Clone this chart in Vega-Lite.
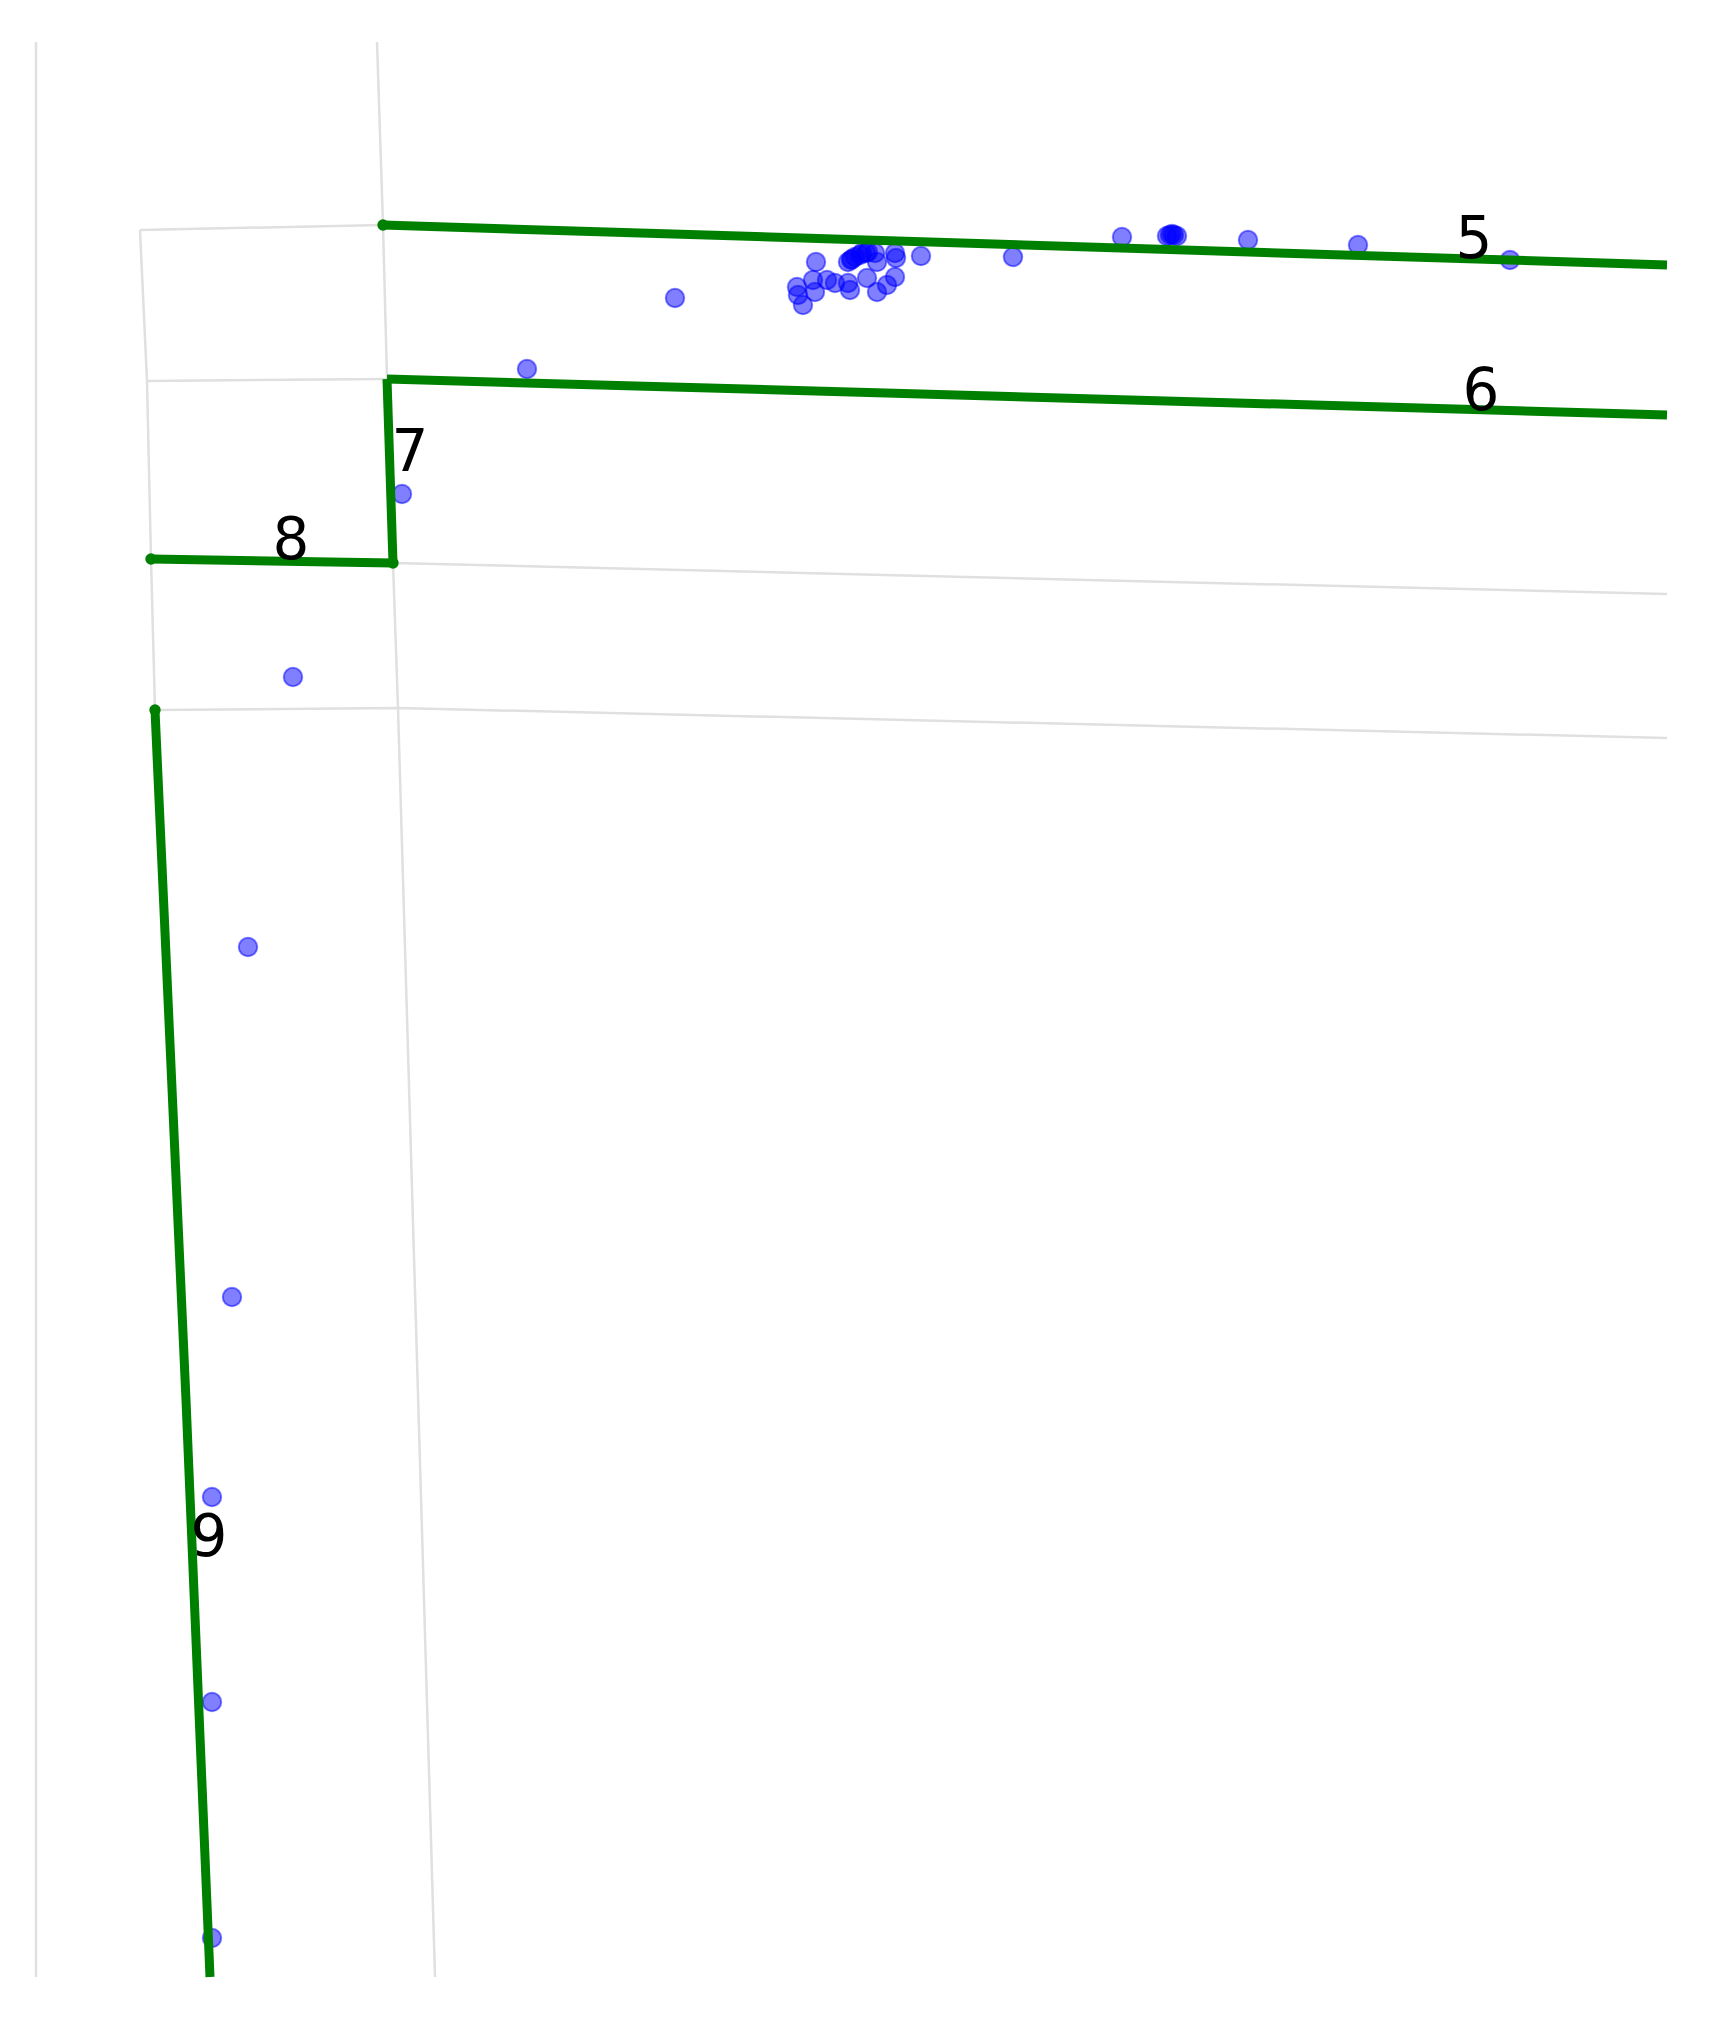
{
  "$schema": "https://vega.github.io/schema/vega-lite/v6.json",
  "width": 1709,
  "height": 2019,
  "autosize": {"type": "fit", "contains": "padding"},
  "padding": 0,
  "background": "white",
  "config": {"view": {"stroke": null}},
  "datasets": {
    "grid": [
      {"id": "L0", "seq": 0, "x": 36, "y": 42},
      {"id": "L0", "seq": 1, "x": 36, "y": 1977},
      {"id": "A", "seq": 0, "x": 377, "y": 42},
      {"id": "A", "seq": 1, "x": 383, "y": 225},
      {"id": "A", "seq": 2, "x": 387, "y": 379},
      {"id": "A", "seq": 3, "x": 393, "y": 563},
      {"id": "A", "seq": 4, "x": 398, "y": 708},
      {"id": "A", "seq": 5, "x": 435, "y": 1977},
      {"id": "T1", "seq": 0, "x": 140, "y": 230},
      {"id": "T1", "seq": 1, "x": 383, "y": 225},
      {"id": "B", "seq": 0, "x": 140, "y": 230},
      {"id": "B", "seq": 1, "x": 147, "y": 381},
      {"id": "B", "seq": 2, "x": 151, "y": 559},
      {"id": "B", "seq": 3, "x": 155, "y": 710},
      {"id": "H2", "seq": 0, "x": 147, "y": 381},
      {"id": "H2", "seq": 1, "x": 387, "y": 379},
      {"id": "H3", "seq": 0, "x": 393, "y": 563},
      {"id": "H3", "seq": 1, "x": 1667, "y": 594},
      {"id": "H4", "seq": 0, "x": 155, "y": 710},
      {"id": "H4", "seq": 1, "x": 398, "y": 708},
      {"id": "H4", "seq": 2, "x": 1667, "y": 738}
    ],
    "borders": [
      {"id": "5", "seq": 0, "x": 383, "y": 225},
      {"id": "5", "seq": 1, "x": 1667, "y": 265},
      {"id": "6", "seq": 0, "x": 387, "y": 379},
      {"id": "6", "seq": 1, "x": 1667, "y": 415},
      {"id": "7", "seq": 0, "x": 387, "y": 379},
      {"id": "7", "seq": 1, "x": 393, "y": 563},
      {"id": "8", "seq": 0, "x": 151, "y": 559},
      {"id": "8", "seq": 1, "x": 393, "y": 563},
      {"id": "9", "seq": 0, "x": 155, "y": 710},
      {"id": "9", "seq": 1, "x": 186, "y": 1400},
      {"id": "9", "seq": 2, "x": 210, "y": 1977}
    ],
    "vertices": [
      {"x": 383, "y": 225},
      {"x": 151, "y": 559},
      {"x": 393, "y": 563},
      {"x": 155, "y": 710}
    ],
    "points": [
      {"x": 675, "y": 298}, {"x": 527, "y": 369}, {"x": 402, "y": 494},
      {"x": 293, "y": 677}, {"x": 248, "y": 947}, {"x": 232, "y": 1297},
      {"x": 212, "y": 1497}, {"x": 212, "y": 1702}, {"x": 212, "y": 1938},
      {"x": 1013, "y": 257}, {"x": 1122, "y": 237}, {"x": 1248, "y": 240},
      {"x": 1358, "y": 245}, {"x": 1510, "y": 260}, {"x": 921, "y": 256},
      {"x": 816, "y": 262},
      {"x": 1167, "y": 236}, {"x": 1170, "y": 235}, {"x": 1172, "y": 234},
      {"x": 1174, "y": 235}, {"x": 1177, "y": 236},
      {"x": 848, "y": 262}, {"x": 851, "y": 260}, {"x": 855, "y": 257},
      {"x": 862, "y": 253}, {"x": 868, "y": 252}, {"x": 875, "y": 253},
      {"x": 852, "y": 259}, {"x": 860, "y": 255}, {"x": 866, "y": 253},
      {"x": 877, "y": 262}, {"x": 895, "y": 253}, {"x": 896, "y": 258},
      {"x": 797, "y": 287}, {"x": 798, "y": 295}, {"x": 803, "y": 305},
      {"x": 813, "y": 280}, {"x": 815, "y": 292}, {"x": 827, "y": 280},
      {"x": 835, "y": 283}, {"x": 848, "y": 283}, {"x": 850, "y": 290},
      {"x": 867, "y": 278}, {"x": 877, "y": 292}, {"x": 887, "y": 285},
      {"x": 895, "y": 277}
    ],
    "labels": [
      {"t": "5", "x": 1474, "y": 258},
      {"t": "6", "x": 1481, "y": 410},
      {"t": "7", "x": 410, "y": 471},
      {"t": "8", "x": 291, "y": 559},
      {"t": "9", "x": 209, "y": 1556}
    ]
  },
  "layer": [
    {
      "data": {"name": "points"},
      "mark": {"type": "circle", "size": 340, "color": "#0000ff", "fillOpacity": 0.5, "stroke": "#0000ff", "strokeOpacity": 0.5, "strokeWidth": 2, "opacity": 1},
      "encoding": {
        "x": {"field": "x", "type": "quantitative", "scale": {"domain": [0, 1709], "nice": false, "zero": false}, "axis": null},
        "y": {"field": "y", "type": "quantitative", "scale": {"domain": [0, 2019], "nice": false, "zero": false, "reverse": true}, "axis": null}
      }
    },
    {
      "data": {"name": "grid"},
      "mark": {"type": "line", "color": "#e0e0e0", "strokeWidth": 2.5},
      "encoding": {
        "x": {"field": "x", "type": "quantitative"},
        "y": {"field": "y", "type": "quantitative"},
        "detail": {"field": "id"},
        "order": {"field": "seq"},
        "strokeWidth": {"condition": {"test": "datum.id === 'L0'", "value": 1.5}, "value": 2.5}
      }
    },
    {
      "data": {"name": "borders"},
      "mark": {"type": "line", "color": "#008000", "strokeWidth": 9},
      "encoding": {
        "x": {"field": "x", "type": "quantitative"},
        "y": {"field": "y", "type": "quantitative"},
        "detail": {"field": "id"},
        "order": {"field": "seq"}
      }
    },
    {
      "data": {"name": "vertices"},
      "mark": {"type": "circle", "size": 130, "color": "#008000", "opacity": 1},
      "encoding": {
        "x": {"field": "x", "type": "quantitative"},
        "y": {"field": "y", "type": "quantitative"}
      }
    },
    {
      "data": {"name": "labels"},
      "mark": {"type": "text", "font": "DejaVu Sans", "fontSize": 58, "align": "center", "baseline": "alphabetic", "color": "black"},
      "encoding": {
        "x": {"field": "x", "type": "quantitative"},
        "y": {"field": "y", "type": "quantitative"},
        "text": {"field": "t"}
      }
    }
  ],
  "resolve": {"scale": {"x": "shared", "y": "shared"}}
}
